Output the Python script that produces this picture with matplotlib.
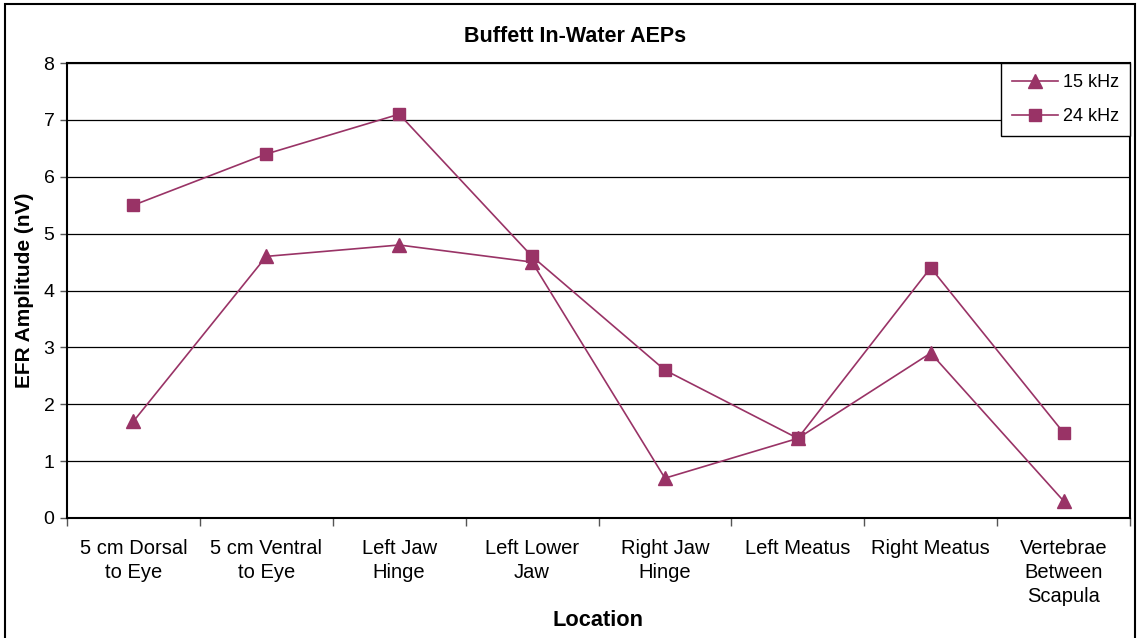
import numpy as np
import matplotlib.pyplot as plt
from matplotlib.patches import Rectangle

plt.rcParams['font.family'] = ['Liberation Sans', 'DejaVu Sans']

# EFR amplitudes per electrode location
locations = ['5 cm Dorsal\nto Eye', '5 cm Ventral\nto Eye', 'Left Jaw\nHinge', 'Left Lower\nJaw',
             'Right Jaw\nHinge', 'Left Meatus', 'Right Meatus', 'Vertebrae\nBetween\nScapula']
amp_15khz = [1.7, 4.6, 4.8, 4.5, 0.7, 1.4, 2.9, 0.3]
amp_24khz = [5.5, 6.4, 7.1, 4.6, 2.6, 1.4, 4.4, 1.5]

colour = '#993366'

fig = plt.figure(figsize=(11.39, 6.38), dpi=100)
ax = fig.add_axes([67/1139, 1 - 518/638, (1130-67)/1139, (518-63)/638])

x = np.arange(len(locations))
ax.plot(x, amp_15khz, color=colour, lw=1.2, marker='^', ms=10, label='15 kHz')
ax.plot(x, amp_24khz, color=colour, lw=1.2, marker='s', ms=8.5, label='24 kHz')

ax.set_xlim(-0.5, len(locations) - 0.5)
ax.set_ylim(0, 8)
ax.set_yticks(range(0, 9))
ax.yaxis.grid(True, color='black', lw=0.9)
ax.set_axisbelow(True)

# category labels sit between the tick marks
ax.set_xticks(np.arange(-0.5, len(locations)), minor=False)
ax.set_xticklabels([])
ax.set_xticks(x, minor=True)
ax.set_xticklabels(locations, minor=True, fontsize=14.5, linespacing=1.35, va='top')
ax.tick_params(axis='x', which='minor', length=0, pad=15)
ax.tick_params(axis='x', which='major', length=6, width=1, color='#555555')
ax.tick_params(axis='y', length=5, width=1, labelsize=14, pad=4, color='#555555')

for s in ax.spines.values():
    s.set_linewidth(1.5)
    s.set_color('black')

# title is centred on the whole chart rather than the plot area
fig.text(575/1139, 1 - 36/638, 'Buffett In-Water AEPs', fontsize=15.5, fontweight='bold',
         ha='center', va='center')
ax.set_xlabel('Location', fontsize=15.7, fontweight='bold', labelpad=3)
ax.set_ylabel('EFR Amplitude (nV)', fontsize=15, fontweight='bold', labelpad=7)

leg = ax.legend(loc='upper right', bbox_to_anchor=(1.0, 1.0), fontsize=13, frameon=True,
                fancybox=False, edgecolor='black', framealpha=1, handlelength=2.55,
                borderpad=0.6, labelspacing=0.95, handletextpad=0.3, borderaxespad=0.0)
leg.get_frame().set_linewidth(1.0)

# outer chart border
fig.patches.append(Rectangle((5/1139, -0.01), 1130/1139, 1 - 4/638 + 0.01,
                             transform=fig.transFigure, fill=False, ec='black', lw=1.5))

fig.savefig('out.png', dpi=100)
